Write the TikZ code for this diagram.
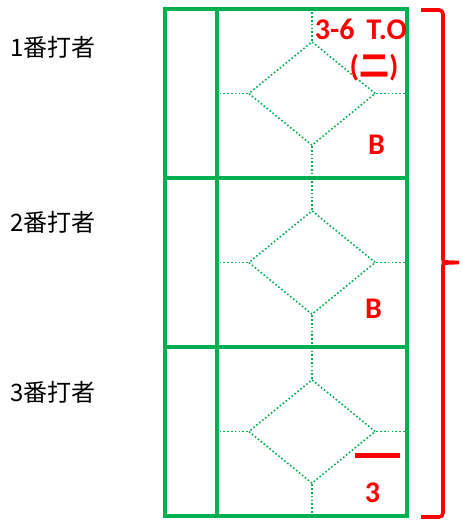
\documentclass[tikz,border=0pt]{standalone}
\usepackage{fontspec}
\setmainfont{Carlito}
\newfontfamily\jpfont{Noto Sans CJK JP}
\usepackage{xcolor}
\usetikzlibrary{positioning,shapes.geometric}
\definecolor{fieldgreen}{RGB}{0,176,80}

\begin{document}
\begin{tikzpicture}[
  x=1pt, y=-1pt,
  inning/.style={draw=fieldgreen, line width=4.6pt, inner sep=0pt, outer sep=0pt,
                 minimum width=242pt, minimum height=169pt},
  divider/.style={draw=fieldgreen, line width=4.6pt},
  diam/.style={diamond, draw=fieldgreen, dash pattern=on 1.6pt off 2.2pt,
               line width=1.6pt, inner sep=0pt,
               minimum width=127pt, minimum height=104pt},
  guide/.style={draw=fieldgreen, dash pattern=on 1.6pt off 2.2pt, line width=1.6pt},
  batter/.style={font=\jpfont\fontsize{24}{28}\selectfont, anchor=west, inner sep=0pt},
  note/.style={text=red, font=\bfseries\fontsize{30}{34}\selectfont, inner sep=0pt},
  groupbrace/.style={draw=red, line width=3.6pt, rounded corners=4pt}
]
\useasboundingbox (0,0) rectangle (462,526);
\node[inning] (box1) at (286,93.5) {};
\node[inning, below=0pt of box1] (box2) {};
\node[inning, below=0pt of box2] (box3) {};
\coordinate (c1) at ([xshift=52pt]box1.north west);
\coordinate (c2) at ([xshift=52pt]box2.north west);
\coordinate (c3) at ([xshift=52pt]box3.north west);
\draw[divider] (c1) -- (c1 |- box1.south);
\draw[divider] (c2) -- (c2 |- box2.south);
\draw[divider] (c3) -- (c3 |- box3.south);
\node[diam] (d1) at ([xshift=26pt]box1.center) {};
\node[diam] (d2) at ([xshift=26pt]box2.center) {};
\node[diam] (d3) at ([xshift=26pt]box3.center) {};
\draw[guide] (d1.north) -- (d1.north |- box1.north);
\draw[guide] (d1.south) -- (d1.south |- box1.south);
\draw[guide] (d1.west) -- (d1.west -| c1);
\draw[guide] (d1.east) -- (d1.east -| box1.east);
\draw[guide] (d2.north) -- (d2.north |- box2.north);
\draw[guide] (d2.south) -- (d2.south |- box2.south);
\draw[guide] (d2.west) -- (d2.west -| c2);
\draw[guide] (d2.east) -- (d2.east -| box2.east);
\draw[guide] (d3.north) -- (d3.north |- box3.north);
\draw[guide] (d3.south) -- (d3.south |- box3.south);
\draw[guide] (d3.west) -- (d3.west -| c3);
\draw[guide] (d3.east) -- (d3.east -| box3.east);
\node[batter] (bat1) at (10,47) {1番打者};
\node[batter] (bat2) at (10,222) {2番打者};
\node[batter] (bat3) at (10,392) {3番打者};
\node[note, anchor=base east] (score) at (407,40) {3-6\hspace{12pt}T.O};
\node[note] (out) at (374,68) {({\jpfont 二})};
\node[note, anchor=base] (res1) at (376.5,155) {B};
\node[note, anchor=base] (res2) at (373.5,318) {B};
\node[note, anchor=base] (res3) at (372.5,502) {3};
\draw[draw=red, line width=5pt] (355,455.5) -- (400,455.5);
\draw[groupbrace] (421,10) -- (443,10) -- (443,255)
  .. controls (443,262) .. (461,262.5)
  .. controls (443,263) .. (443,270) -- (443,517) -- (421,517);
\end{tikzpicture}
\end{document}
